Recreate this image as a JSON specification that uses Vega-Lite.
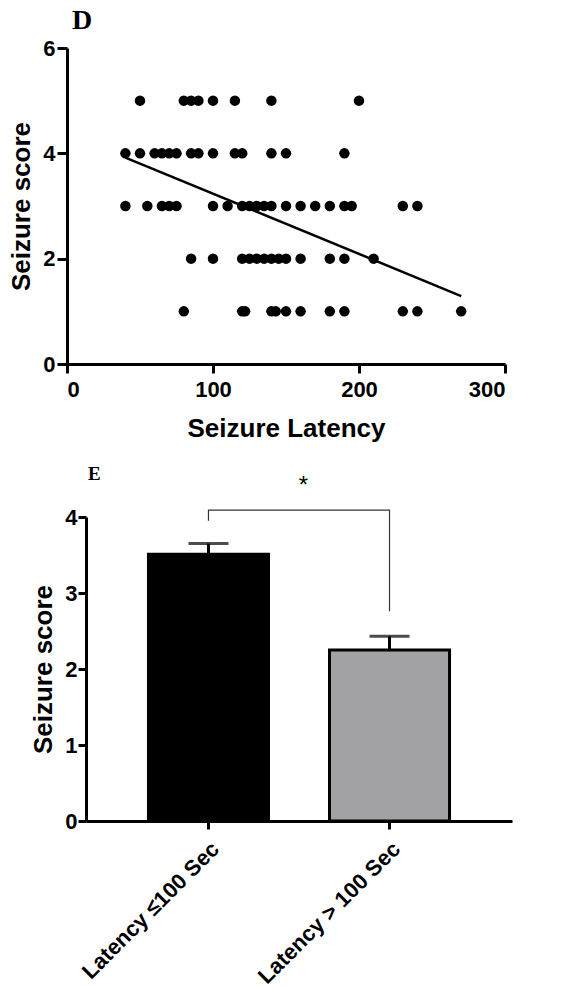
{
  "$schema": "https://vega.github.io/schema/vega-lite/v6.json",
  "background": "white",
  "padding": {"left": 8, "top": 7, "right": 5, "bottom": 0},
  "config": {
    "view": {"stroke": null},
    "font": "Liberation Sans",
    "axis": {
      "grid": false,
      "domainColor": "black", "tickColor": "black", "labelColor": "black", "titleColor": "black",
      "domainWidth": 3, "tickWidth": 3,
      "labelFont": "Liberation Sans", "labelFontWeight": "bold",
      "titleFont": "Liberation Sans", "titleFontWeight": "bold"
    }
  },
  "bounds": "flush",
  "spacing": 153,
  "vconcat": [
    {
      "width": 438,
      "height": 316,
      "title": {"text": "D", "anchor": "start", "frame": "group", "font": "Liberation Serif", "fontSize": 28, "fontWeight": "bold", "color": "black", "dx": 5, "offset": -20, "baseline": "alphabetic"},
      "layer": [
        {
          "data": {"values": [
            {"latency": 50, "score": 5}, {"latency": 80, "score": 5}, {"latency": 85, "score": 5}, {"latency": 90, "score": 5},
            {"latency": 100, "score": 5}, {"latency": 115, "score": 5}, {"latency": 140, "score": 5}, {"latency": 200, "score": 5},
            {"latency": 40, "score": 4}, {"latency": 50, "score": 4}, {"latency": 60, "score": 4}, {"latency": 65, "score": 4},
            {"latency": 70, "score": 4}, {"latency": 75, "score": 4}, {"latency": 85, "score": 4}, {"latency": 90, "score": 4},
            {"latency": 100, "score": 4}, {"latency": 115, "score": 4}, {"latency": 120, "score": 4}, {"latency": 140, "score": 4},
            {"latency": 150, "score": 4}, {"latency": 190, "score": 4},
            {"latency": 40, "score": 3}, {"latency": 55, "score": 3}, {"latency": 65, "score": 3}, {"latency": 70, "score": 3},
            {"latency": 75, "score": 3}, {"latency": 100, "score": 3}, {"latency": 110, "score": 3}, {"latency": 120, "score": 3},
            {"latency": 125, "score": 3}, {"latency": 130, "score": 3}, {"latency": 135, "score": 3}, {"latency": 140, "score": 3},
            {"latency": 150, "score": 3}, {"latency": 160, "score": 3}, {"latency": 170, "score": 3}, {"latency": 180, "score": 3},
            {"latency": 190, "score": 3}, {"latency": 195, "score": 3}, {"latency": 230, "score": 3}, {"latency": 240, "score": 3},
            {"latency": 85, "score": 2}, {"latency": 100, "score": 2}, {"latency": 120, "score": 2}, {"latency": 125, "score": 2},
            {"latency": 130, "score": 2}, {"latency": 135, "score": 2}, {"latency": 140, "score": 2}, {"latency": 145, "score": 2},
            {"latency": 150, "score": 2}, {"latency": 160, "score": 2}, {"latency": 180, "score": 2}, {"latency": 190, "score": 2},
            {"latency": 210, "score": 2},
            {"latency": 80, "score": 1}, {"latency": 120, "score": 1}, {"latency": 122, "score": 1}, {"latency": 140, "score": 1},
            {"latency": 143, "score": 1}, {"latency": 150, "score": 1}, {"latency": 160, "score": 1}, {"latency": 180, "score": 1},
            {"latency": 190, "score": 1}, {"latency": 230, "score": 1}, {"latency": 240, "score": 1}, {"latency": 270, "score": 1}
          ]},
          "mark": {"type": "point", "filled": true, "shape": "circle", "color": "black", "opacity": 1, "size": 110, "strokeWidth": 0},
          "encoding": {
            "x": {"field": "latency", "type": "quantitative", "scale": {"domain": [0, 300], "nice": false},
                  "axis": {"values": [0, 100, 200, 300], "title": "Seizure Latency", "labelFontSize": 22, "titleFontSize": 26, "tickSize": 9, "labelPadding": 6, "titlePadding": 15}},
            "y": {"field": "score", "type": "quantitative", "scale": {"domain": [0, 6], "nice": false},
                  "axis": {"values": [0, 2, 4, 6], "title": "Seizure score", "labelFontSize": 22, "titleFontSize": 26, "tickSize": 10, "labelPadding": 2, "titlePadding": 8}}
          }
        },
        {
          "data": {"values": [{"latency": 40, "score": 3.92}, {"latency": 270, "score": 1.29}]},
          "mark": {"type": "line", "color": "black", "strokeWidth": 2.5},
          "encoding": {
            "x": {"field": "latency", "type": "quantitative"},
            "y": {"field": "score", "type": "quantitative"}
          }
        }
      ]
    },
    {
      "width": 445,
      "height": 304,
      "title": {"text": "E", "anchor": "start", "frame": "group", "font": "Liberation Serif", "fontSize": 19, "fontWeight": "bold", "color": "black", "dx": 21, "offset": -25, "baseline": "alphabetic"},
      "layer": [
        {
          "data": {"values": [
            {"group": "Latency ≤100 Sec", "mean": 3.51, "upper": 3.65},
            {"group": "Latency > 100 Sec", "mean": 2.25, "upper": 2.43}
          ]},
          "layer": [
            {
              "mark": {"type": "bar", "stroke": "black", "strokeWidth": 3},
              "encoding": {
                "x": {"field": "group", "type": "nominal", "sort": null,
                      "scale": {"range": [19, 445], "paddingInner": 0.337, "paddingOuter": 0.345},
                      "axis": {"title": null, "labelAngle": -45, "labelFontSize": 22, "labelLimit": 0, "tickSize": 8, "labelPadding": 9}},
                "y": {"field": "mean", "type": "quantitative", "scale": {"domain": [0, 4], "nice": false},
                      "axis": {"values": [0, 1, 2, 3, 4], "format": "d", "title": "Seizure score", "labelFontSize": 22, "titleFontSize": 26, "tickSize": 8, "labelPadding": 1, "titlePadding": 8, "offset": -19}},
                "fill": {"field": "group", "type": "nominal", "sort": null, "scale": {"range": ["#000000", "#a2a2a6"]}, "legend": null}
              }
            },
            {
              "mark": {"type": "rule", "color": "black", "strokeWidth": 3},
              "encoding": {
                "x": {"field": "group", "type": "nominal", "sort": null},
                "y": {"field": "mean", "type": "quantitative"},
                "y2": {"field": "upper"}
              }
            },
            {
              "mark": {"type": "tick", "color": "black", "thickness": 3, "size": 40, "orient": "horizontal"},
              "encoding": {
                "x": {"field": "group", "type": "nominal", "sort": null},
                "y": {"field": "upper", "type": "quantitative"}
              }
            }
          ]
        },
        {
          "data": {"values": [
            {"group": "Latency ≤100 Sec", "level": 3.95, "step": 1},
            {"group": "Latency ≤100 Sec", "level": 4.09, "step": 2},
            {"group": "Latency > 100 Sec", "level": 4.09, "step": 3},
            {"group": "Latency > 100 Sec", "level": 2.76, "step": 4}
          ]},
          "mark": {"type": "line", "color": "#333333", "strokeWidth": 1.2},
          "encoding": {
            "x": {"field": "group", "type": "nominal", "sort": null},
            "y": {"field": "level", "type": "quantitative"},
            "order": {"field": "step", "type": "quantitative"}
          }
        },
        {
          "data": {"values": [{"group": "Latency ≤100 Sec", "level": 4.31, "label": "*"}]},
          "mark": {"type": "text", "color": "black", "fontSize": 24, "font": "Liberation Sans", "baseline": "alphabetic", "align": "center", "dx": 95},
          "encoding": {
            "x": {"field": "group", "type": "nominal", "sort": null},
            "y": {"field": "level", "type": "quantitative"},
            "text": {"field": "label"}
          }
        }
      ]
    }
  ]
}
